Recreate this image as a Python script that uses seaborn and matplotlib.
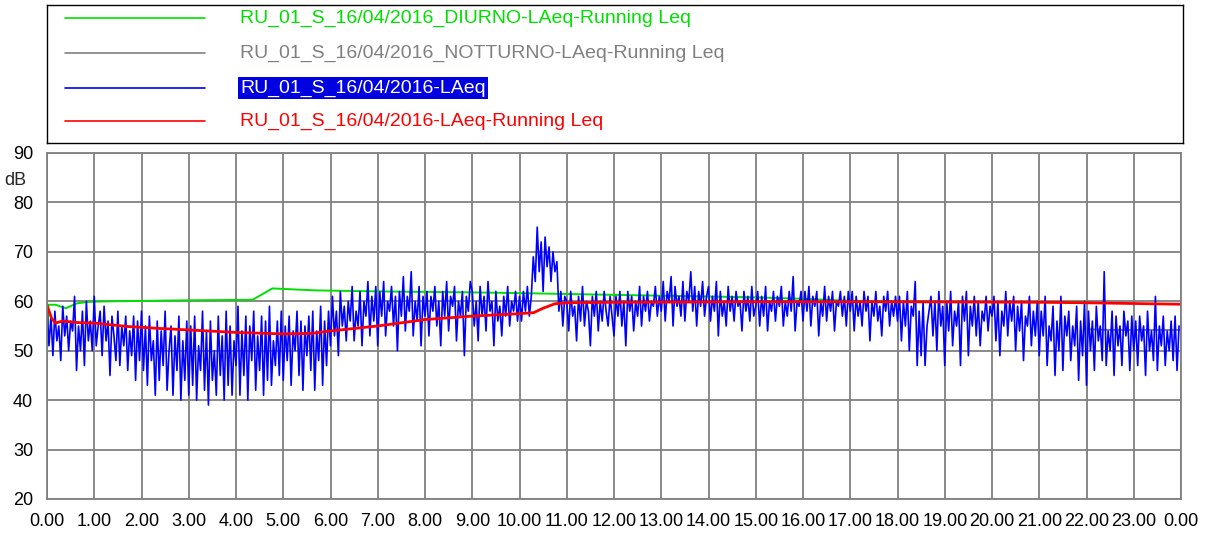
import numpy as np
import pandas as pd
import seaborn as sns
import matplotlib
matplotlib.use("Agg")
import matplotlib.pyplot as plt

# LAeq samples, 24 per hour (one row per hour)
laeq_rows = [
    [59, 51, 57, 49, 58, 52, 55, 48, 59, 53, 57, 50, 56, 54, 61, 46, 55, 50, 58, 47, 60, 52, 56, 50],
    [61, 51, 55, 58, 49, 59, 52, 56, 45, 57, 53, 48, 58, 47, 55, 51, 57, 46, 54, 49, 57, 44, 56, 48],
    [58, 46, 55, 43, 57, 48, 52, 41, 56, 44, 54, 47, 58, 42, 50, 55, 41, 53, 46, 57, 40, 52, 44, 56],
    [41, 55, 43, 57, 40, 51, 46, 58, 42, 54, 39, 56, 44, 50, 41, 57, 45, 53, 40, 58, 43, 55, 41, 52],
    [47, 59, 41, 54, 45, 57, 40, 55, 48, 58, 42, 53, 46, 57, 41, 56, 44, 59, 43, 52, 47, 56, 45, 58],
    [44, 55, 48, 57, 43, 54, 50, 58, 45, 56, 42, 55, 49, 57, 46, 58, 42, 54, 48, 59, 43, 56, 47, 58],
    [51, 61, 53, 58, 49, 62, 55, 59, 52, 60, 56, 63, 52, 58, 55, 62, 51, 60, 57, 64, 53, 61, 56, 63],
    [51, 62, 57, 64, 53, 60, 58, 63, 55, 61, 50, 62, 57, 65, 54, 61, 58, 66, 53, 60, 56, 63, 51, 61],
    [57, 62, 53, 61, 58, 63, 55, 60, 51, 62, 57, 64, 54, 61, 59, 63, 52, 60, 57, 62, 49, 61, 58, 64],
    [62, 55, 60, 52, 63, 57, 61, 54, 64, 58, 60, 51, 62, 56, 59, 53, 61, 57, 63, 55, 60, 58, 62, 56],
    [61, 56, 62, 58, 63, 57, 61, 69, 64, 75, 66, 72, 62, 73, 67, 71, 64, 70, 66, 68, 58, 62, 55, 61],
    [60, 54, 62, 57, 59, 52, 61, 56, 63, 55, 60, 58, 51, 61, 57, 62, 54, 60, 56, 62, 58, 55, 61, 57],
    [53, 61, 57, 62, 55, 60, 51, 62, 58, 61, 54, 60, 57, 63, 55, 61, 58, 62, 56, 60, 59, 63, 57, 61],
    [58, 64, 56, 62, 60, 65, 55, 63, 59, 61, 57, 64, 56, 62, 60, 66, 58, 63, 55, 62, 59, 64, 57, 61],
    [63, 56, 61, 58, 64, 53, 62, 57, 60, 55, 63, 58, 61, 56, 62, 59, 60, 54, 62, 58, 61, 56, 63, 57],
    [59, 62, 55, 61, 57, 63, 54, 60, 58, 62, 56, 61, 59, 63, 55, 60, 57, 62, 58, 65, 54, 60, 59, 62],
    [56, 62, 58, 63, 55, 61, 59, 62, 53, 60, 57, 63, 56, 61, 58, 62, 54, 60, 59, 62, 57, 61, 55, 62],
    [58, 62, 54, 61, 57, 60, 55, 62, 58, 61, 52, 60, 57, 62, 56, 59, 53, 61, 58, 62, 55, 60, 57, 61],
    [56, 61, 52, 60, 55, 62, 50, 59, 57, 64, 47, 58, 49, 60, 47, 55, 58, 61, 53, 60, 50, 62, 55, 59],
    [47, 60, 54, 62, 51, 58, 55, 60, 47, 61, 56, 62, 49, 59, 55, 61, 53, 60, 51, 58, 56, 61, 54, 59],
    [57, 61, 52, 60, 49, 58, 55, 62, 53, 60, 56, 61, 50, 59, 54, 60, 48, 57, 55, 61, 51, 58, 53, 60],
    [49, 58, 53, 61, 47, 55, 52, 59, 45, 56, 50, 61, 46, 57, 53, 58, 48, 55, 51, 59, 44, 56, 49, 60],
    [43, 58, 50, 56, 46, 59, 52, 55, 48, 66, 47, 54, 50, 58, 45, 57, 51, 55, 47, 58, 53, 56, 46, 57],
    [50, 56, 47, 57, 52, 55, 45, 58, 50, 54, 48, 61, 46, 55, 51, 57, 47, 54, 50, 56, 48, 57, 46, 55],
]
laeq = [v for row in laeq_rows for v in row]
laeq_time = np.arange(len(laeq)) / 24.0

# running Leq (whole day)
run_time = [0.0, 0.1, 0.18, 0.33, 0.64, 1.0, 1.7, 2.4, 3.0, 4.0, 5.0, 5.6, 6.0, 7.0, 8.0, 9.0, 10.0,
            10.3, 10.5, 10.75, 11.0, 12.0, 15.0, 18.0, 21.0, 22.0, 24.0]
run_leq = [59.2, 56.5, 55.6, 56.0, 55.7, 55.6, 54.9, 54.5, 54.2, 53.7, 53.4, 53.5, 54.0, 55.0, 56.3, 57.0, 57.5,
           57.7, 58.6, 59.5, 59.7, 59.8, 59.9, 59.9, 59.8, 59.7, 59.4]

# DIURNO running Leq
day_time = [0.0, 0.03, 0.18, 0.4, 0.64, 0.92, 1.4, 3.0, 4.35, 4.77, 5.7, 7.0, 9.0, 10.3, 12.0, 15.0, 16.0,
            17.0, 19.0, 22.0]
day_leq = [51.2, 59.3, 59.3, 58.6, 59.6, 59.9, 60.0, 60.2, 60.3, 62.6, 62.2, 62.0, 61.8, 61.6, 61.3, 60.8,
           60.5, 60.1, 59.9, 59.8]

# NOTTURNO running Leq
night_time = [21.97, 22.1, 22.5, 23.0, 24.0]
night_leq = [54.6, 54.3, 54.2, 54.2, 54.2]

labels = [
    "RU_01_S_16/04/2016_DIURNO-LAeq-Running Leq",
    "RU_01_S_16/04/2016_NOTTURNO-LAeq-Running Leq",
    "RU_01_S_16/04/2016-LAeq",
    "RU_01_S_16/04/2016-LAeq-Running Leq",
]
colors = ["#00e000", "#808080", "#0000ff", "#ff0000"]

sns.set_style("white")
plt.rcParams["font.family"] = ["Liberation Sans", "DejaVu Sans"]

W, H = 1210, 537
fig = plt.figure(figsize=(W / 100, H / 100), dpi=100)

# main plot
ax = fig.add_axes([47 / W, 1 - 499 / H, 1134 / W, 346 / H])
sns.lineplot(x=day_time, y=day_leq, ax=ax, color=colors[0], linewidth=1.4)
sns.lineplot(x=night_time, y=night_leq, ax=ax, color=colors[1], linewidth=1.4)
sns.lineplot(x=laeq_time, y=laeq, ax=ax, color=colors[2], linewidth=1.2)
sns.lineplot(x=run_time, y=run_leq, ax=ax, color=colors[3], linewidth=2.0)

ax.set_xlim(0, 24)
ax.set_ylim(20, 90)
ax.set_xticks(range(0, 25))
ax.set_xticklabels(["%d.00" % (h % 24) for h in range(0, 25)])
ax.set_yticks(range(20, 91, 10))
ax.grid(True, color="#808080", linewidth=1.3)
ax.set_axisbelow(True)
for s in ax.spines.values():
    s.set_color("#808080")
    s.set_linewidth(1.3)
ax.tick_params(axis="both", direction="out", length=7, width=1.3, color="#808080",
               labelsize=13, labelcolor="black", pad=3)
ax.set_xlabel("")
ax.set_ylabel("")
ax.text(-0.028, 0.92, "dB", transform=ax.transAxes, ha="center", va="center", fontsize=13)

# legend box, drawn in pixel coordinates
lg = fig.add_axes([47 / W, 1 - 143 / H, 1136 / W, 138 / H])
lg.set_xlim(47, 1183)
lg.set_ylim(143, 5)
lg.set_xticks([])
lg.set_yticks([])
for s in lg.spines.values():
    s.set_color("black")
    s.set_linewidth(1.0)
rows_y = [18, 53, 88, 121]
for i, lab in enumerate(labels):
    lg.plot([65, 205], [rows_y[i], rows_y[i]], color=colors[i], linewidth=1.2)
    if i == 2:
        lg.text(240, rows_y[i], lab, color="white", fontsize=14, va="center", ha="left",
                bbox=dict(facecolor="#0000e0", edgecolor="none", pad=1.5))
    else:
        lg.text(240, rows_y[i], lab, color=colors[i], fontsize=14, va="center", ha="left")

fig.savefig("out.png", dpi=100)
